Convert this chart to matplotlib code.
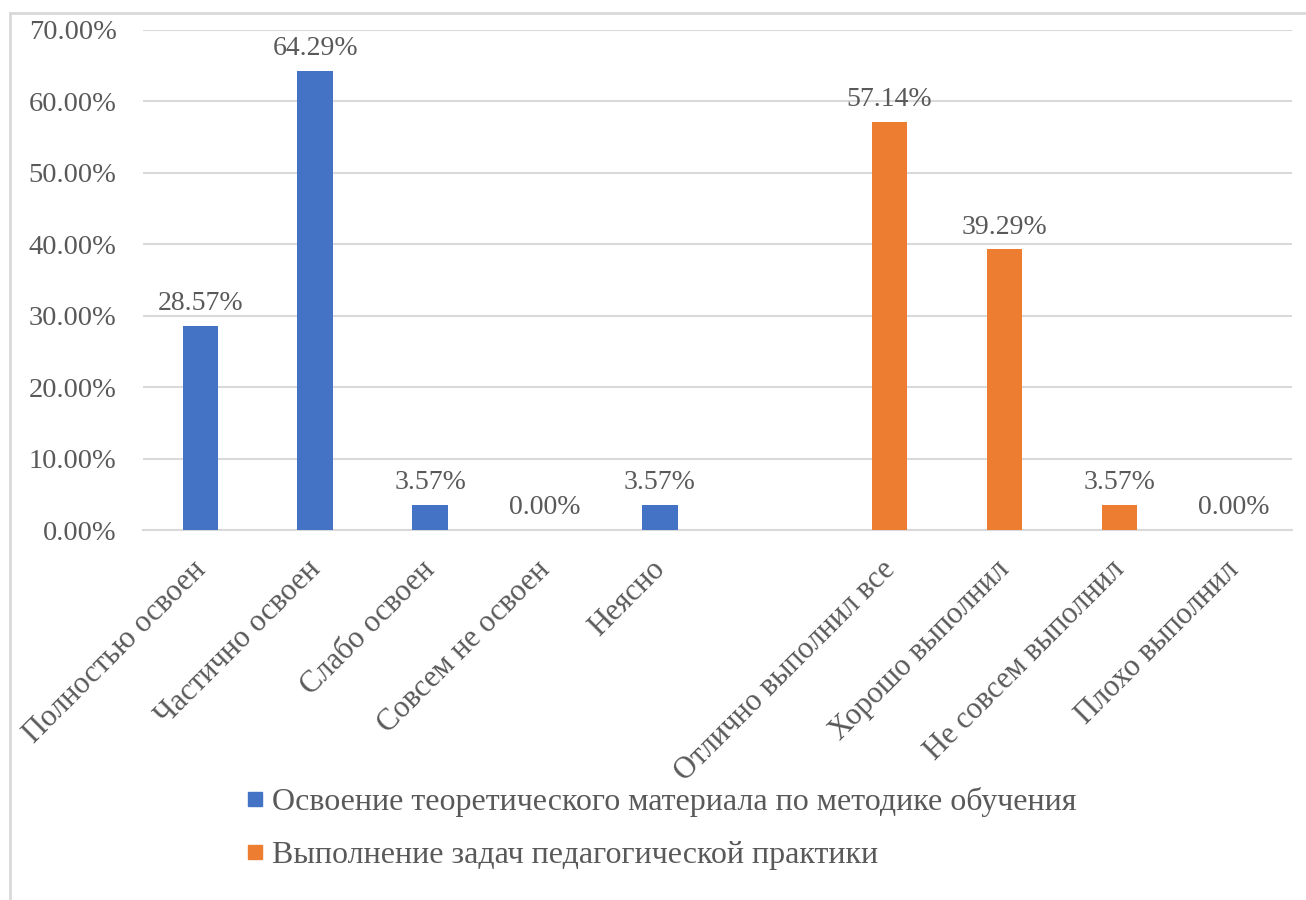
import numpy as np
import matplotlib.pyplot as plt
import matplotlib.transforms as mtransforms
from matplotlib.lines import Line2D

plt.rcParams['font.family'] = ['Liberation Serif', 'DejaVu Serif']

# categories (empty slot between the two groups)
categories = ['Полностью освоен', 'Частично освоен', 'Слабо освоен', 'Совсем не освоен', 'Неясно',
              '', 'Отлично выполнил все', 'Хорошо выполнил', 'Не совсем выполнил', 'Плохо выполнил']
theory_vals = [28.57, 64.29, 3.57, 0.00, 3.57]
practice_vals = [57.14, 39.29, 3.57, 0.00]
series_names = ['Освоение теоретического материала по методике обучения',
                'Выполнение задач педагогической практики']
colors = ['#4472C4', '#ED7D31']
txt = '#595959'

fig = plt.figure(figsize=(13.06, 9), dpi=100)
ax = fig.add_axes([0.1095, 0.411, 0.8795, 0.5557])

x = np.arange(len(categories))
x_th = x[:5]
x_pr = x[6:]
ax.bar(x_th, theory_vals, width=0.31, color=colors[0], zorder=3)
ax.bar(x_pr, practice_vals, width=0.31, color=colors[1], zorder=3)

for xs, vals in [(x_th, theory_vals), (x_pr, practice_vals)]:
    for xi, v in zip(xs, vals):
        ax.annotate(f'{v:.2f}%', (xi, v), xytext=(0, 7), textcoords='offset points',
                    ha='center', va='bottom', fontsize=20, color=txt)

ax.set_xlim(-0.5, len(categories) - 0.5)
ax.set_ylim(0, 70)
ax.set_yticks(np.arange(0, 71, 10))
ax.set_yticklabels([f'{t:.2f}%' for t in np.arange(0, 71, 10)])
ax.yaxis.grid(True, color='#d9d9d9', linewidth=1.5, zorder=0)
ax.set_xticks(x)
ax.set_xticklabels(categories, rotation=45, ha='right', va='top', rotation_mode='default')
ax.tick_params(axis='x', length=0, pad=18, labelsize=22, labelcolor=txt)
ax.tick_params(axis='y', length=0, pad=19, labelsize=20.5, labelcolor=txt)
shift = mtransforms.ScaledTranslation(8 / 72, 0, fig.dpi_scale_trans)
for lab in ax.get_xticklabels():
    lab.set_transform(lab.get_transform() + shift)
for s in ['top', 'right', 'left']:
    ax.spines[s].set_visible(False)
ax.spines['bottom'].set_color('#d9d9d9')
ax.spines['bottom'].set_linewidth(1.5)

handles = [Line2D([], [], marker='s', linestyle='none', color=c, markersize=10) for c in colors]
fig.legend(handles, series_names, loc='upper left', bbox_to_anchor=(0.179, 0.14),
           frameon=False, fontsize=23, labelcolor=txt, handlelength=0.5, handletextpad=0.3,
           labelspacing=0.75, borderaxespad=0)

# outer border (left and top edges)
fig.add_artist(Line2D([0.0078, 0.0078], [0, 0.986], color='#d9d9d9', linewidth=2, transform=fig.transFigure))
fig.add_artist(Line2D([0.0078, 1.0], [0.986, 0.986], color='#d9d9d9', linewidth=2, transform=fig.transFigure))

fig.savefig('out.png', dpi=100)
